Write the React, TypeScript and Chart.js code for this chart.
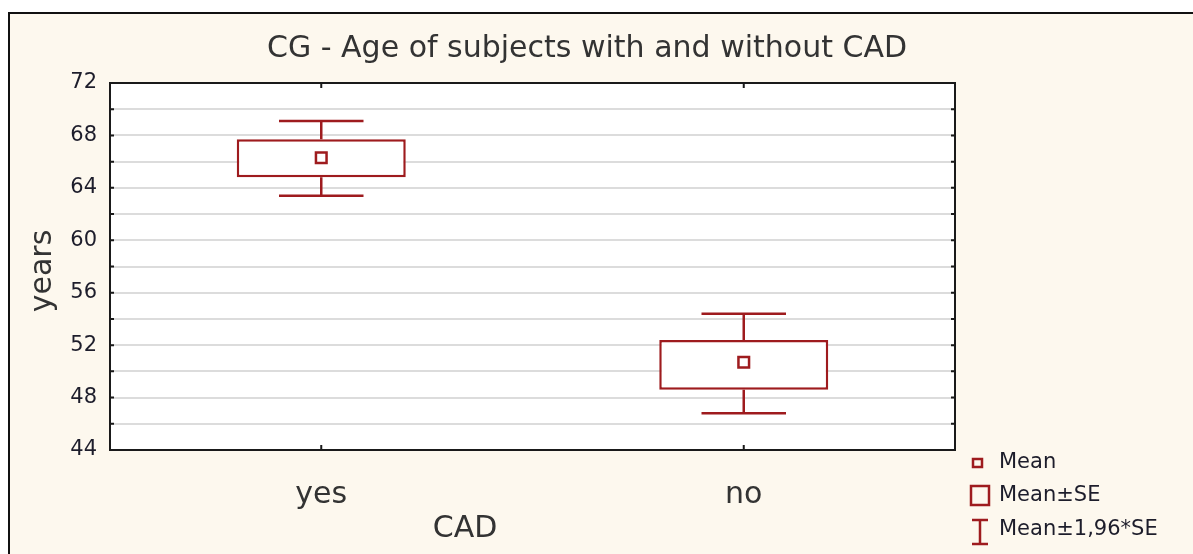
import React, { useEffect, useRef } from "react";
import { Chart, registerables } from "chart.js";

Chart.register(...registerables);

const categories = ["yes", "no"];
const means = [66.3, 50.7];
const seLow = [64.8, 48.6];
const seHigh = [67.7, 52.4];
const ciLow = [63.4, 46.8];
const ciHigh = [69.1, 54.4];

const yMin = 44;
const yMax = 72;
const yStep = 2;

const titleText = "CG - Age of subjects with and without CAD";
const yTitle = "years";
const xTitle = "CAD";
const legendLabels = ["Mean", "Mean\u00B1SE", "Mean\u00B11,96*SE"];

const RED = "#9e1b1e";
const FONT = "'DejaVu Sans', sans-serif";

export default function App() {
  const ref = useRef<HTMLCanvasElement | null>(null);

  useEffect(() => {
    const canvas = ref.current!;
    const decor = {
      id: "decor",
      beforeDraw(chart: any) {
        const ctx = chart.ctx;
        const a = chart.chartArea;
        ctx.save();
        ctx.fillStyle = "#ffffff";
        ctx.fillRect(a.left, a.top, a.right - a.left, a.bottom - a.top);
        ctx.restore();
      },
      afterDatasetsDraw(chart: any) {
        const ctx = chart.ctx;
        const y = chart.scales.y;
        const x = chart.scales.x;
        const meta = chart.getDatasetMeta(0);
        ctx.save();
        ctx.strokeStyle = RED;
        ctx.lineWidth = 2.5;
        categories.forEach((_, i) => {
          const bar = meta.data[i];
          const cx = x.getPixelForValue(i);
          const cap = bar.width * 0.5;
          const yHi = y.getPixelForValue(ciHigh[i]);
          const yLo = y.getPixelForValue(ciLow[i]);
          const bHi = y.getPixelForValue(seHigh[i]);
          const bLo = y.getPixelForValue(seLow[i]);
          ctx.beginPath();
          ctx.moveTo(cx, yHi);
          ctx.lineTo(cx, bHi);
          ctx.moveTo(cx, bLo);
          ctx.lineTo(cx, yLo);
          ctx.moveTo(cx - cap / 2, yHi);
          ctx.lineTo(cx + cap / 2, yHi);
          ctx.moveTo(cx - cap / 2, yLo);
          ctx.lineTo(cx + cap / 2, yLo);
          ctx.stroke();
        });
        ctx.restore();
      },
      afterDraw(chart: any) {
        const ctx = chart.ctx;
        const a = chart.chartArea;
        const y = chart.scales.y;
        const x = chart.scales.x;
        ctx.save();
        // frame
        ctx.strokeStyle = "#1a1a1a";
        ctx.lineWidth = 2;
        ctx.strokeRect(a.left, a.top, a.right - a.left, a.bottom - a.top);
        // inward tick marks
        ctx.beginPath();
        for (let v = yMin + yStep; v < yMax; v += yStep) {
          const py = y.getPixelForValue(v);
          ctx.moveTo(a.left, py);
          ctx.lineTo(a.left + 4, py);
          ctx.moveTo(a.right, py);
          ctx.lineTo(a.right - 4, py);
        }
        categories.forEach((_, i) => {
          const px = x.getPixelForValue(i);
          ctx.moveTo(px, a.top);
          ctx.lineTo(px, a.top + 5);
          ctx.moveTo(px, a.bottom);
          ctx.lineTo(px, a.bottom - 5);
        });
        ctx.stroke();
        // titles
        ctx.fillStyle = "#333";
        ctx.textAlign = "center";
        ctx.textBaseline = "middle";
        ctx.font = `30px ${FONT}`;
        ctx.fillText(titleText, 577, 35);
        ctx.fillText(xTitle, 455, 515);
        ctx.save();
        ctx.translate(33, 257);
        ctx.rotate(-Math.PI / 2);
        ctx.fillText(yTitle, 0, 0);
        ctx.restore();
        // legend
        ctx.strokeStyle = RED;
        ctx.lineWidth = 2.5;
        ctx.strokeRect(963, 445, 9, 8);
        ctx.strokeRect(961, 472, 18, 19);
        ctx.beginPath();
        ctx.moveTo(962, 506);
        ctx.lineTo(978, 506);
        ctx.moveTo(970, 506);
        ctx.lineTo(970, 530);
        ctx.moveTo(962, 530);
        ctx.lineTo(978, 530);
        ctx.stroke();
        ctx.fillStyle = "#1d1d2b";
        ctx.textAlign = "left";
        ctx.font = `21px ${FONT}`;
        ctx.fillText(legendLabels[0], 989, 449);
        ctx.fillText(legendLabels[1], 989, 482);
        ctx.fillText(legendLabels[2], 989, 516);
        ctx.restore();
      },
    };

    const chart = new Chart(canvas, {
      type: "bar",
      data: {
        labels: categories,
        datasets: [
          {
            type: "bar",
            data: categories.map((_, i) => [seLow[i], seHigh[i]]) as any,
            backgroundColor: "#ffffff",
            borderColor: RED,
            borderWidth: 2.5,
            borderSkipped: false,
            barPercentage: 0.4,
            categoryPercentage: 1,
            order: 2,
          } as any,
          {
            type: "line",
            data: means,
            showLine: false,
            pointStyle: "rect",
            pointRadius: 7.5,
            pointBorderWidth: 2.5,
            pointBackgroundColor: "#ffffff",
            pointBorderColor: RED,
            order: 1,
          } as any,
        ],
      },
      options: {
        animation: false,
        responsive: false,
        maintainAspectRatio: false,
        layout: { padding: { top: 69, right: 238, left: 0, bottom: 0 } },
        plugins: { legend: { display: false }, title: { display: false }, tooltip: { enabled: false } },
        scales: {
          x: {
            offset: true,
            grid: { display: false, drawTicks: false },
            border: { display: false },
            ticks: { color: "#333", font: { family: FONT, size: 30 }, padding: 27 },
            afterFit: (s: any) => {
              s.height = 104;
            },
          },
          y: {
            min: yMin,
            max: yMax,
            grid: { color: "#dcdcdc", lineWidth: 2, drawTicks: false },
            border: { display: false },
            ticks: {
              stepSize: yStep,
              autoSkip: false,
              color: "#1d1d2b",
              font: { family: FONT, size: 21 },
              padding: 13,
              callback: (v: any) => (Number(v) % 4 === 0 ? String(v) : ""),
            },
            afterFit: (s: any) => {
              s.width = 100;
            },
          },
        },
      },
      plugins: [decor],
    });
    return () => chart.destroy();
  }, []);

  return (
    <div
      style={{
        position: "fixed",
        left: 8,
        top: 12,
        right: 0,
        bottom: 0,
        borderTop: "2px solid #111",
        borderLeft: "2px solid #111",
        background: "#fdf8ee",
        overflow: "hidden",
      }}
    >
      <canvas ref={ref} width={1183} height={540} style={{ display: "block" }} />
    </div>
  );
}
